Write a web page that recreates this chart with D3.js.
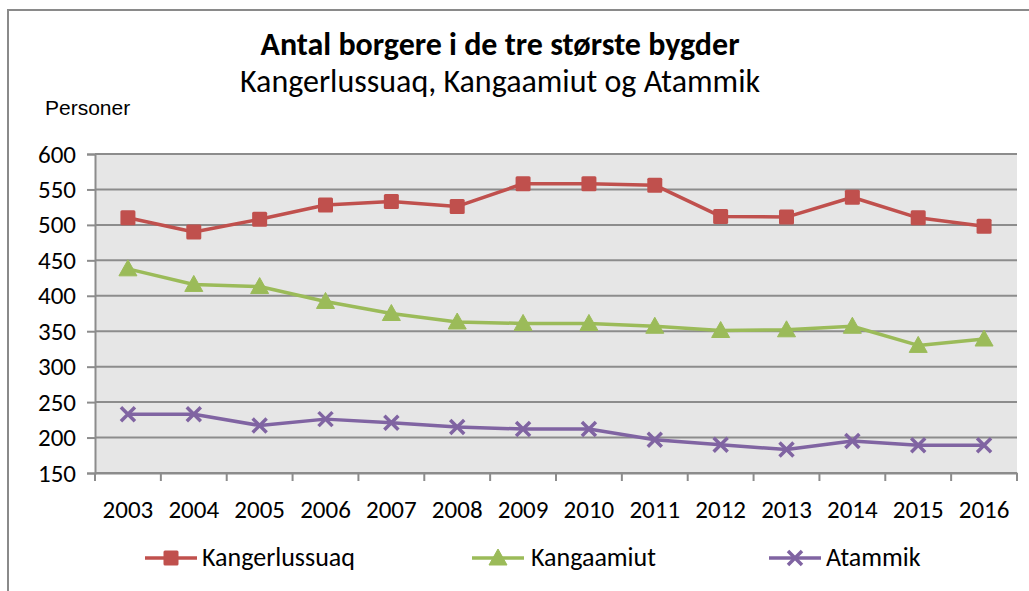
<!DOCTYPE html>
<html>
<head>
<meta charset="utf-8">
<script src="https://cdn.jsdelivr.net/npm/d3@7"></script>
<style>
  body { margin: 0; background: #fff; }
  text { font-family: Calibri, Carlito, "Open Sans", sans-serif; fill: #000; }
</style>
</head>
<body>
<div id="chart"></div>
<script>
const years = [2003, 2004, 2005, 2006, 2007, 2008, 2009, 2010, 2011, 2012, 2013, 2014, 2015, 2016];
const kangerlussuaq = [510, 490, 508, 528, 533, 526, 558, 558, 556, 512, 511, 539, 510, 498];
const kangaamiut = [438, 416, 413, 392, 375, 363, 361, 361, 357, 351, 352, 357, 330, 339];
const atammik = [233, 233, 217, 226, 221, 215, 212, 212, 197, 190, 183, 195, 189, 189];
const yTicks = [150, 200, 250, 300, 350, 400, 450, 500, 550, 600];
const seriesNames = ["Kangerlussuaq", "Kangaamiut", "Atammik"];

const width = 1029;
const height = 591;
const plot = { left: 95, right: 1017, top: 154, bottom: 473 };

const series = [
    { name: seriesNames[0], values: kangerlussuaq, color: "#c0504d", marker: "square" },
    { name: seriesNames[1], values: kangaamiut, color: "#9bbb59", marker: "triangle" },
    { name: seriesNames[2], values: atammik, color: "#8064a2", marker: "cross" }
];

const svg = d3.select("#chart")
    .append("svg")
    .attr("width", width)
    .attr("height", height);

// outer chart frame (cropped on right and bottom)
svg.append("path")
    .attr("d", "M8,600 L8,10 L1040,10")
    .attr("fill", "none")
    .attr("stroke", "#8a8a8a")
    .attr("stroke-width", 2);

const x = d3.scaleBand()
    .domain(years)
    .range([plot.left, plot.right]);

const y = d3.scaleLinear()
    .domain([150, 600])
    .range([plot.bottom, plot.top]);

// plot background
svg.append("rect")
    .attr("x", plot.left)
    .attr("y", plot.top)
    .attr("width", plot.right - plot.left)
    .attr("height", plot.bottom - plot.top)
    .attr("fill", "#e6e6e6");

// gridlines
svg.append("g")
    .selectAll("line")
    .data(yTicks)
    .join("line")
    .attr("x1", plot.left)
    .attr("x2", plot.right)
    .attr("y1", d => y(d))
    .attr("y2", d => y(d))
    .attr("stroke", "#8c8c8c")
    .attr("stroke-width", 2);

// y axis
const yAxis = svg.append("g")
    .attr("transform", "translate(" + plot.left + ",0)")
    .call(d3.axisLeft(y).tickValues(yTicks).tickSize(8).tickPadding(11));
yAxis.selectAll("path, line").attr("stroke", "#8c8c8c").attr("stroke-width", 2);
yAxis.selectAll("text").attr("font-size", 25).style("font-family", null);

// x axis with ticks at category boundaries
const xAxis = svg.append("g")
    .attr("transform", "translate(0," + plot.bottom + ")")
    .call(d3.axisBottom(x).tickSize(0).tickPadding(27));
xAxis.select(".domain").attr("stroke", "#8c8c8c").attr("stroke-width", 2);
xAxis.selectAll("text").attr("font-size", 25).style("font-family", null);

svg.append("g")
    .selectAll("line")
    .data(years.concat([null]))
    .join("line")
    .attr("x1", (d, i) => plot.left + i * x.step())
    .attr("x2", (d, i) => plot.left + i * x.step())
    .attr("y1", plot.bottom)
    .attr("y2", plot.bottom + 8)
    .attr("stroke", "#8c8c8c")
    .attr("stroke-width", 2);

const cx = d => x(d) + x.bandwidth() / 2;

const line = d3.line()
    .x((d, i) => cx(years[i]))
    .y(d => y(d));

function drawMarker(g, type, color) {
    if (type === "square") {
        g.append("rect")
            .attr("x", -7.5).attr("y", -7.5)
            .attr("width", 15).attr("height", 15)
            .attr("rx", 1.5)
            .attr("fill", color);
    } else if (type === "triangle") {
        g.append("path")
            .attr("d", "M0,-9 L9,7 L-9,7 Z")
            .attr("fill", color)
            .attr("stroke", color)
            .attr("stroke-linejoin", "round")
            .attr("stroke-width", 1);
    } else {
        g.append("path")
            .attr("d", "M-7,-7 L7,7 M-7,7 L7,-7")
            .attr("stroke", color)
            .attr("stroke-width", 3.5);
    }
}

series.forEach(s => {
    svg.append("path")
        .datum(s.values)
        .attr("d", line)
        .attr("fill", "none")
        .attr("stroke", s.color)
        .attr("stroke-width", 3.5)
        .attr("stroke-linejoin", "round");

    svg.append("g")
        .selectAll("g")
        .data(s.values)
        .join("g")
        .attr("transform", (d, i) => "translate(" + cx(years[i]) + "," + y(d) + ")")
        .each(function() { drawMarker(d3.select(this), s.marker, s.color); });
});

// titles
svg.append("text")
    .attr("x", 500)
    .attr("y", 55)
    .attr("text-anchor", "middle")
    .attr("font-size", 32)
    .attr("font-weight", "bold")
    .text("Antal borgere i de tre største bygder");

svg.append("text")
    .attr("x", 500)
    .attr("y", 92)
    .attr("text-anchor", "middle")
    .attr("font-size", 32)
    .text("Kangerlussuaq, Kangaamiut og Atammik");

svg.append("text")
    .attr("x", 45)
    .attr("y", 115)
    .attr("font-size", 21)
    .style("font-family", "'Liberation Sans', Arial, sans-serif")
    .text("Personer");

// legend
const legendX = [145, 472, 769];
const legend = svg.append("g")
    .selectAll("g")
    .data(series)
    .join("g")
    .attr("transform", (d, i) => "translate(" + legendX[i] + ",558)");

legend.append("line")
    .attr("x1", 0).attr("x2", 52)
    .attr("stroke", d => d.color)
    .attr("stroke-width", 3.5);

legend.each(function(d) {
    const g = d3.select(this).append("g").attr("transform", "translate(26,0)");
    drawMarker(g, d.marker, d.color);
});

legend.append("text")
    .attr("x", (d, i) => i === 1 ? 59 : 57)
    .attr("y", 8)
    .attr("font-size", 26)
    .text(d => d.name);
</script>
</body>
</html>
